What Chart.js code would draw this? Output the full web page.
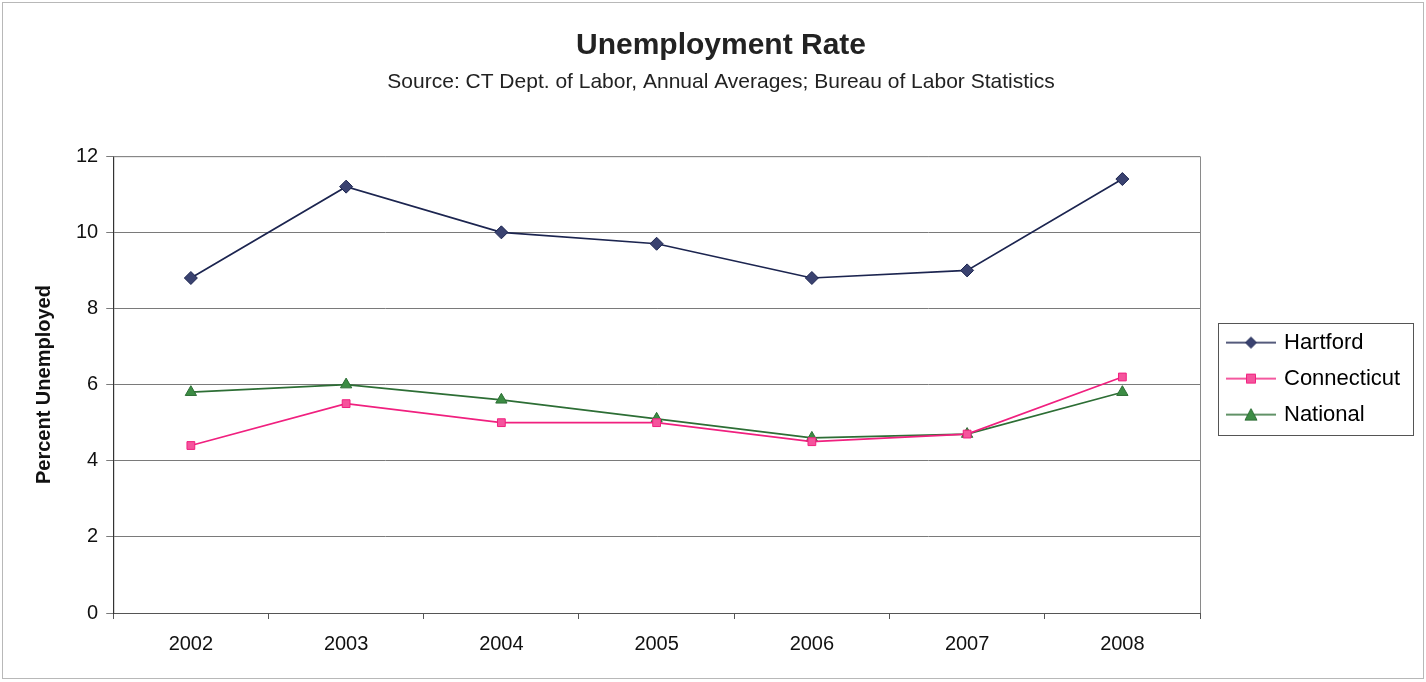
<!DOCTYPE html>
<html>
<head>
<meta charset="utf-8">
<script src="https://cdn.jsdelivr.net/npm/chart.js@4"></script>
<style>
  html, body { margin: 0; padding: 0; background: #fff; }
  #wrap { width: 1426px; height: 682px; }
</style>
</head>
<body>
<div id="wrap"><canvas id="chart1" width="1426" height="682"></canvas></div>
<script>
const years = ['2002', '2003', '2004', '2005', '2006', '2007', '2008'];
const hartford = [8.8, 11.2, 10.0, 9.7, 8.8, 9.0, 11.4];
const connecticut = [4.4, 5.5, 5.0, 5.0, 4.5, 4.7, 6.2];
const national = [5.8, 6.0, 5.6, 5.1, 4.6, 4.7, 5.8];
const yTicks = [0, 2, 4, 6, 8, 10, 12];

const FONT = "'Liberation Sans', Arial, sans-serif";

// small line+marker picture for the legend, like the Excel legend keys
function legendKey(color, fill, style) {
    const c = document.createElement('canvas');
    c.width = 50; c.height = 14;
    const g = c.getContext('2d');
    g.strokeStyle = color;
    g.lineWidth = 1.5;
    g.beginPath(); g.moveTo(0, 7); g.lineTo(50, 7); g.stroke();
    g.fillStyle = fill;
    g.beginPath();
    if (style === 'rectRot') {
        g.moveTo(25, 1.5); g.lineTo(30.5, 7); g.lineTo(25, 12.5); g.lineTo(19.5, 7);
    } else if (style === 'rect') {
        g.rect(20.5, 2.5, 9, 9);
    } else {
        g.moveTo(25, 1); g.lineTo(31, 12.5); g.lineTo(19, 12.5);
    }
    g.closePath(); g.fill();
    g.strokeStyle = color; g.lineWidth = 1; g.stroke();
    return c;
}

const PLOT_RIGHT = 1200;
const LEGEND_LEFT = 1215;

const frame = {
    id: 'frame',
    beforeLayout(chart) {
        // make the legend column reach back to the plot's right edge
        const lg = chart.legend;
        if (lg && !lg._wide) {
            const fit = lg.fit;
            lg.fit = function() {
                fit.call(this);
                this.width = Math.max(this.width, chart.width - 12 - PLOT_RIGHT);
            };
            lg._wide = true;
        }
    },
    afterLayout(chart) {
        const lg = chart.legend, a = chart.chartArea;
        lg.left = LEGEND_LEFT;
        const shift = (a.top + a.bottom) / 2 - 6 - (lg.top + lg.bottom) / 2;
        lg.top += shift;
        lg.bottom += shift;
    },
    beforeDraw(chart) {
        const ctx = chart.ctx;
        ctx.save();
        ctx.fillStyle = '#fff';
        ctx.fillRect(0, 0, chart.width, chart.height);
        ctx.strokeStyle = '#b8b8b8';
        ctx.lineWidth = 1;
        ctx.strokeRect(2.5, 2.5, chart.width - 5, chart.height - 6);
        ctx.restore();
    },
    afterDraw(chart) {
        const ctx = chart.ctx, a = chart.chartArea;
        ctx.save();
        ctx.strokeStyle = '#8a8a8a';
        ctx.lineWidth = 1;
        ctx.beginPath();
        ctx.moveTo(a.left, a.top + 0.5); ctx.lineTo(a.right + 0.5, a.top + 0.5);
        ctx.lineTo(a.right + 0.5, a.bottom);
        ctx.stroke();
        // legend box
        const boxes = chart.legend.legendHitBoxes;
        if (boxes && boxes.length) {
            const l = Math.min(...boxes.map(b => b.left)) - 11;
            const t = boxes[0].top - 9;
            const r = Math.max(...boxes.map(b => b.left + b.width)) + 13;
            const bt = boxes[boxes.length - 1].top + boxes[boxes.length - 1].height + 9;
            ctx.strokeStyle = '#555';
            ctx.strokeRect(Math.round(l) + 0.5, Math.round(t) + 0.5, Math.round(r - l), Math.round(bt - t));
        }
        ctx.restore();
    }
};

const series = [
    { label: 'Hartford', data: hartford, color: '#1c2550', fill: '#3a4270', style: 'rectRot', r: 6.5 },
    { label: 'Connecticut', data: connecticut, color: '#f0207f', fill: '#f5549d', style: 'rect', r: 5.5 },
    { label: 'National', data: national, color: '#2d6e35', fill: '#3c8c44', style: 'triangle', r: 6.5 }
];

new Chart(document.getElementById('chart1').getContext('2d'), {
    type: 'line',
    data: {
        labels: years,
        datasets: series.map(s => ({
            label: s.label,
            data: s.data,
            borderColor: s.color,
            backgroundColor: s.fill,
            borderWidth: 1.7,
            pointStyle: s.style,
            pointRadius: s.r,
            pointBorderColor: s.color,
            pointBorderWidth: 1,
            pointBackgroundColor: s.fill,
            tension: 0
        }))
    },
    options: {
        responsive: false,
        animation: false,
        layout: { padding: { left: 28, right: 12, top: 14, bottom: 13 } },
        plugins: {
            title: {
                display: true,
                text: 'Unemployment Rate',
                color: '#222',
                font: { family: FONT, size: 30, weight: 'bold' },
                padding: { top: 14, bottom: 6 }
            },
            subtitle: {
                display: true,
                text: 'Source: CT Dept. of Labor, Annual Averages; Bureau of Labor Statistics',
                color: '#222',
                font: { family: FONT, size: 21 },
                padding: { bottom: 61 }
            },
            legend: {
                position: 'right',
                labels: {
                    usePointStyle: true,
                    pointStyleWidth: 44,
                    color: '#111',
                    padding: 14,
                    font: { family: FONT, size: 22 },
                    generateLabels: chart => series.map((s, i) => ({
                        text: s.label,
                        pointStyle: legendKey(s.color, s.fill, s.style),
                        fillStyle: s.fill,
                        strokeStyle: s.color,
                        lineWidth: 0,
                        hidden: false,
                        datasetIndex: i
                    }))
                }
            },
            tooltip: { enabled: false }
        },
        scales: {
            x: {
                offset: true,
                grid: { display: true, drawOnChartArea: false, offset: true, color: '#555', tickLength: 6 },
                border: { color: '#555' },
                ticks: { color: '#111', padding: 13, font: { family: FONT, size: 20 } }
            },
            y: {
                min: yTicks[0],
                max: yTicks[yTicks.length - 1],
                afterBuildTicks: axis => { axis.ticks = yTicks.map(v => ({ value: v })); },
                grid: { color: '#7a7a7a', tickLength: 7 },
                border: { color: '#333', width: 1.2 },
                ticks: { color: '#111', padding: 8, font: { family: FONT, size: 20 } },
                title: {
                    display: true,
                    text: 'Percent Unemployed',
                    color: '#111',
                    font: { family: FONT, size: 20, weight: 'bold' },
                    padding: { bottom: 12 }
                }
            }
        }
    },
    plugins: [frame]
});
</script>
</body>
</html>
